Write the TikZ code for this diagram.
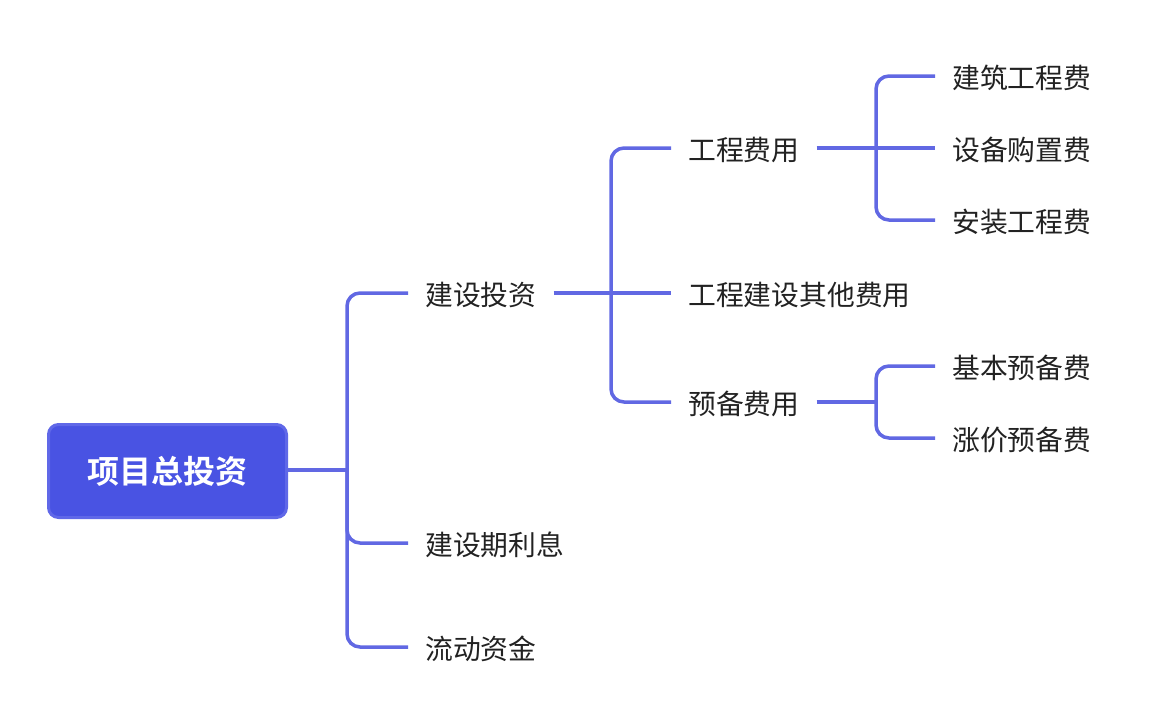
\documentclass[tikz,border=0pt]{standalone}
\usepackage{fontspec}
\newfontfamily\cjk{Noto Sans CJK SC}
\newfontfamily\cjkb{Noto Sans CJK SC Bold}
\definecolor{linec}{HTML}{6168E3}
\definecolor{rootfill}{HTML}{4953E3}
\definecolor{rootedge}{HTML}{6068E8}
\definecolor{txt}{HTML}{222222}
\begin{document}
\begin{tikzpicture}[x=1pt,y=-1pt,
  leaf/.style={anchor=west,inner xsep=17pt,inner ysep=0pt,text height=27pt,text depth=2pt,font=\cjk\fontsize{27.8}{30}\selectfont,text=txt},
  rootbox/.style={draw=rootedge,line width=3pt,fill=rootfill,rounded corners=10pt,minimum width=238pt,minimum height=93pt,text=white,font=\cjkb\fontsize{32}{36}\selectfont,inner sep=0pt},
  conn/.style={draw=linec,line width=3.5pt},
  branch/.style={conn,rounded corners=13pt}]
\useasboundingbox (0,0) rectangle (1156,726);
% nodes
\node[rootbox] (root) at (167.5,471) {\raisebox{-2pt}{项目总投资}};
\node[leaf] (jstz) at (408,293) {建设投资};
\node[leaf] (jsql) at (408,543) {建设期利息};
\node[leaf] (ldzj) at (408,647) {流动资金};
\node[leaf] (gcfy) at (671,148) {工程费用};
\node[leaf] (gcqt) at (671,293) {工程建设其他费用};
\node[leaf] (ybfy) at (671,402) {预备费用};
\node[leaf] (jzgc) at (935,76) {建筑工程费};
\node[leaf] (sbgz) at (935,148) {设备购置费};
\node[leaf] (azgc) at (935,220) {安装工程费};
\node[leaf] (jbyb) at (935,366) {基本预备费};
\node[leaf] (zjyb) at (935,438) {涨价预备费};
% junctions
\coordinate (j1) at (347,470);
\coordinate (j2) at (611,293);
\coordinate (j3) at (876,148);
\coordinate (j4) at (876,402);
% connectors
\draw[conn] (root.east |- j1) -- (j1);
\draw[branch] (j1) |- (jstz.west);
\draw[branch] (j1) |- (jsql.west);
\draw[branch] (j1) |- (ldzj.west);
\draw[conn] (jstz.east) -- (j2);
\draw[branch] (j2) |- (gcfy.west);
\draw[conn] (j2) -- (gcqt.west);
\draw[branch] (j2) |- (ybfy.west);
\draw[conn] (gcfy.east) -- (j3);
\draw[branch] (j3) |- (jzgc.west);
\draw[conn] (j3) -- (sbgz.west);
\draw[branch] (j3) |- (azgc.west);
\draw[conn] (ybfy.east) -- (j4);
\draw[branch] (j4) |- (jbyb.west);
\draw[branch] (j4) |- (zjyb.west);
\end{tikzpicture}
\end{document}
